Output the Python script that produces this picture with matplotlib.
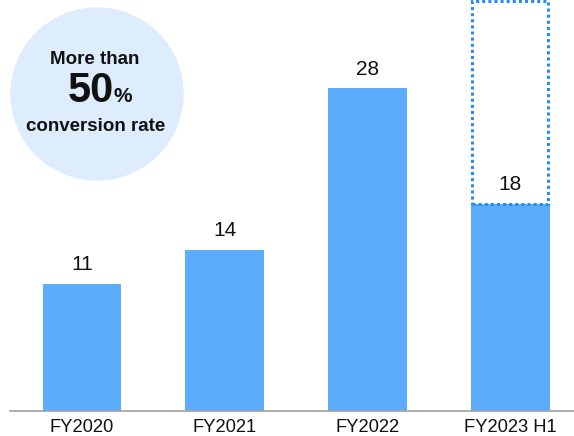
import matplotlib
matplotlib.use("Agg")
import matplotlib.pyplot as plt
from matplotlib.patches import Rectangle, Circle

plt.rcParams['font.family'] = ['Liberation Sans', 'DejaVu Sans']

categories = ["FY2020", "FY2021", "FY2022", "FY2023 H1"]
values = [11, 14, 28, 18]
full_year_outline = 35.6  # dotted outline above the half-year bar

bar_color = "#5BADFB"
outline_color = "#2A8CF2"

W, H, DPI = 574, 436, 100
fig = plt.figure(figsize=(W / DPI, H / DPI), dpi=DPI)

# main axes: baseline at y=411 px, spans full height above it
ax_left, ax_right = 10, 574
ax_bottom = 411
ax = fig.add_axes([ax_left / W, (H - ax_bottom) / H,
                   (ax_right - ax_left) / W, ax_bottom / H])

x = list(range(len(categories)))
spacing = 142.8
x0 = (ax_left - 82) / spacing
x1 = (ax_right - 82) / spacing
ax.set_xlim(x0, x1)
ax.set_ylim(0, 35.66)

bar_w = 0.553
ax.bar(x, values, width=bar_w, color=bar_color, zorder=2)

for xi, v in zip(x, values):
    ax.annotate(f"{v}", (xi, v), xytext=(0, 7), textcoords="offset points",
                ha="center", va="bottom", fontsize=15, color="#111111")

# dotted outline showing the full-year extrapolation
box_w = 0.532
ax.add_patch(Rectangle((x[-1] - 0.005 - box_w / 2, values[-1]), box_w,
                       full_year_outline - values[-1], fill=False,
                       edgecolor=outline_color, linewidth=2.2,
                       linestyle=(0, (1, 1)), clip_on=False, zorder=3))

for s in ["top", "right", "left"]:
    ax.spines[s].set_visible(False)
ax.spines["bottom"].set_color("#A0A0A0")
ax.spines["bottom"].set_linewidth(1.2)
ax.set_yticks([])
ax.set_xticks(x)
ax.set_xticklabels(categories, fontsize=13.2, color="#111111")
ax.tick_params(axis="x", length=0, pad=6)

# callout bubble in pixel coordinates
ov = fig.add_axes([0, 0, 1, 1], facecolor="none")
ov.set_xlim(0, W)
ov.set_ylim(H, 0)
ov.axis("off")
ov.add_patch(Circle((97, 94), 86, color="#DDEDFD", zorder=1))
ov.text(95, 60, "More than", ha="center", va="center", fontsize=13.5,
        fontweight="bold", color="#111111", zorder=2)
ov.text(114, 102, "50", ha="right", va="baseline", fontsize=30,
        fontweight="bold", color="#111111", zorder=2)
ov.text(114, 102, "%", ha="left", va="baseline", fontsize=15,
        fontweight="bold", color="#111111", zorder=2)
ov.text(96, 131, "conversion rate", ha="center", va="baseline", fontsize=13.5,
        fontweight="bold", color="#111111", zorder=2)

fig.savefig("out.png", dpi=DPI)
